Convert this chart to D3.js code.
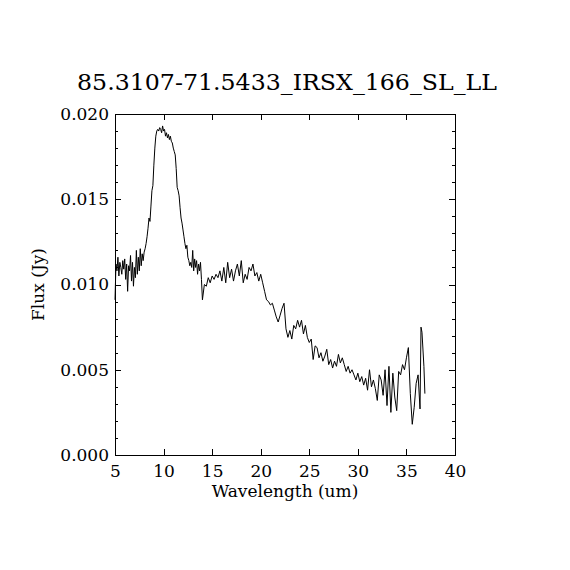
<!DOCTYPE html>
<html>
  <head>
    <meta charset="UTF-8">
    <style>
      body {
        margin: 0;
        background: white;
      }

      svg text {
        font-family: "DejaVu Serif", serif;
        fill: black;
      }

      .axis .domain {
        display: none;
      }

      .axis line {
        stroke: black;
        shape-rendering: crispEdges;
      }

      .axis text {
        font-size: 17px;
      }
    </style>
    <script src="https://d3js.org/d3.v7.min.js"></script>
  </head>

  <body>
    <svg id="spectrum"></svg>

    <script type="text/javascript">
      const title = '85.3107-71.5433_IRSX_166_SL_LL'
      const xLabel = 'Wavelength (um)'
      const yLabel = 'Flux (Jy)'

      const xTicks = [5, 10, 15, 20, 25, 30, 35, 40]
      const yTicks = [0.000, 0.005, 0.010, 0.015, 0.020]
      const yMinorTicks = [0.001, 0.002, 0.003, 0.004, 0.006, 0.007, 0.008, 0.009,
        0.011, 0.012, 0.013, 0.014, 0.016, 0.017, 0.018, 0.019]

      // spectrum
      const wavelength = [
        5.0, 5.1, 5.2, 5.3, 5.4, 5.5, 5.6, 5.7, 5.8, 5.9,
        6.0, 6.1, 6.2, 6.3, 6.4, 6.5, 6.6, 6.7, 6.8, 6.9,
        7.0, 7.1, 7.2, 7.3, 7.4, 7.5, 7.6, 7.7, 7.8, 7.9,
        8.0, 8.1, 8.2, 8.3, 8.4, 8.5, 8.6, 8.7, 8.8, 8.9,
        9.0, 9.1, 9.2, 9.3, 9.4, 9.5, 9.6, 9.7, 9.8, 9.9,
        10.0, 10.1, 10.2, 10.3, 10.4, 10.5, 10.6, 10.7, 10.8, 10.9,
        11.0, 11.1, 11.2, 11.3, 11.4, 11.5, 11.6, 11.7, 11.8, 11.9,
        12.0, 12.1, 12.2, 12.3, 12.4, 12.5, 12.6, 12.7, 12.8, 12.9,
        13.0, 13.1, 13.2, 13.3, 13.4, 13.5, 13.6, 13.7, 13.8, 13.9,
        14.0, 14.2, 14.4, 14.6, 14.8, 15.0, 15.2, 15.4, 15.6, 15.8,
        16.0, 16.2, 16.4, 16.6, 16.8, 17.0, 17.2, 17.4, 17.6, 17.8,
        18.0, 18.2, 18.4, 18.6, 18.8, 19.0, 19.2, 19.4, 19.6, 19.8,
        20.0, 20.2, 20.4, 20.6, 20.8, 21.0, 21.2, 21.4, 21.6, 21.8,
        22.0, 22.2, 22.4, 22.6, 22.8, 23.0, 23.2, 23.4, 23.6, 23.8,
        24.0, 24.2, 24.4, 24.6, 24.8, 25.0, 25.2, 25.4, 25.6, 25.8,
        26.0, 26.2, 26.4, 26.6, 26.8, 27.0, 27.2, 27.4, 27.6, 27.8,
        28.0, 28.2, 28.4, 28.6, 28.8, 29.0, 29.2, 29.4, 29.6, 29.8,
        30.0, 30.2, 30.4, 30.6, 30.8, 31.0, 31.2, 31.4, 31.6, 31.8,
        32.0, 32.2, 32.4, 32.6, 32.8, 33.0, 33.2, 33.4, 33.6, 33.8,
        34.0, 34.2, 34.4, 34.6, 34.8, 35.0, 35.2, 35.4, 35.6, 35.8,
        36.0, 36.2, 36.4, 36.5, 36.6, 36.8, 36.9
      ]

      const flux = [
        0.0091, 0.0112, 0.0108, 0.0116, 0.0105, 0.0113, 0.0110, 0.0106, 0.0114, 0.0109,
        0.0115, 0.0103, 0.0112, 0.0096, 0.0111, 0.0108, 0.0117, 0.0102, 0.0113, 0.0099,
        0.0110, 0.0104, 0.0120, 0.0106, 0.0116, 0.0108, 0.0121, 0.0111, 0.0118, 0.0114,
        0.0119, 0.0121, 0.0124, 0.0128, 0.0133, 0.0139, 0.0137, 0.0146, 0.0155, 0.0158,
        0.0170, 0.0180, 0.0187, 0.0190, 0.0191, 0.0190, 0.0192, 0.0191, 0.0189, 0.0193,
        0.0190, 0.0191, 0.0187, 0.0189, 0.0186, 0.0188, 0.0185, 0.0187, 0.0184, 0.0183,
        0.0180, 0.0178, 0.0176, 0.0168, 0.0157, 0.0155, 0.0152, 0.0145, 0.0139, 0.0136,
        0.0132, 0.0128, 0.0124, 0.0121, 0.0123, 0.0116, 0.0114, 0.0111, 0.0113, 0.0110,
        0.0120, 0.0108, 0.0115, 0.0110, 0.0114, 0.0106, 0.0112, 0.0108, 0.0113, 0.0103,
        0.0091, 0.0100, 0.0099, 0.0104, 0.0101, 0.0105, 0.0103, 0.0106, 0.0104, 0.0108,
        0.0102, 0.0110, 0.0101, 0.0113, 0.0104, 0.0109, 0.0102, 0.0108, 0.0112, 0.0105,
        0.0114, 0.0101, 0.0106, 0.0103, 0.0110, 0.0108, 0.0112, 0.0105, 0.0107, 0.0102,
        0.0106, 0.0101, 0.0096, 0.0091, 0.0090, 0.0088, 0.0089, 0.0085, 0.0081, 0.0078,
        0.0082, 0.0086, 0.0089, 0.0074, 0.0069, 0.0073, 0.0068, 0.0076, 0.0074, 0.0079,
        0.0075, 0.0079, 0.0071, 0.0076, 0.0069, 0.0066, 0.0068, 0.0056, 0.0064, 0.0063,
        0.0057, 0.0060, 0.0055, 0.0058, 0.0062, 0.0053, 0.0056, 0.0051, 0.0055, 0.0052,
        0.0059, 0.0054, 0.0057, 0.0053, 0.0049, 0.0052, 0.0048, 0.0050, 0.0047, 0.0044,
        0.0048, 0.0043, 0.0046, 0.0041, 0.0045, 0.0038, 0.0050, 0.0040, 0.0044, 0.0039,
        0.0032, 0.0047, 0.0044, 0.0035, 0.0050, 0.0029, 0.0052, 0.0025, 0.0048, 0.0034,
        0.0026, 0.0049, 0.0047, 0.0053, 0.0050, 0.0057, 0.0063, 0.0036, 0.0018, 0.0028,
        0.0042, 0.0047, 0.0027, 0.0075, 0.0072, 0.0052, 0.0036
      ]

      function getChartConfig() {
        let width = 570
        let height = 570
        let margin = {
          top: 114,
          bottom: 115,
          left: 115,
          right: 115
        }

        let bodyWidth = width - margin.left - margin.right
        let bodyHeight = height - margin.top - margin.bottom

        let container = d3.select('#spectrum')
          .attr('width', width)
          .attr('height', height)

        return { width, height, margin, bodyWidth, bodyHeight, container }
      }

      function getChartScales(config) {
        let xScale = d3.scaleLinear()
          .domain([5, 40])
          .range([0, config.bodyWidth])

        let yScale = d3.scaleLinear()
          .domain([0, 0.020])
          .range([config.bodyHeight, 0])

        return { xScale, yScale }
      }

      function drawAxes(scales, config) {
        let g = config.container
          .append('g')
          .attr('transform', `translate(${config.margin.left}, ${config.margin.top})`)

        g.append('g')
          .attr('class', 'axis')
          .attr('transform', `translate(0, ${config.bodyHeight})`)
          .call(d3.axisBottom(scales.xScale)
            .tickValues(xTicks)
            .tickFormat(d3.format('d'))
            .tickSize(-6)
            .tickPadding(10))

        g.append('g')
          .attr('class', 'axis')
          .call(d3.axisTop(scales.xScale)
            .tickValues(xTicks)
            .tickFormat('')
            .tickSize(-6))

        g.append('g')
          .attr('class', 'axis')
          .call(d3.axisLeft(scales.yScale)
            .tickValues(yTicks)
            .tickFormat(d3.format('.3f'))
            .tickSize(-6)
            .tickPadding(6))

        g.append('g')
          .attr('class', 'axis')
          .call(d3.axisLeft(scales.yScale)
            .tickValues(yMinorTicks)
            .tickFormat('')
            .tickSize(-3))

        g.append('g')
          .attr('class', 'axis')
          .attr('transform', `translate(${config.bodyWidth}, 0)`)
          .call(d3.axisRight(scales.yScale)
            .tickValues(yTicks)
            .tickFormat('')
            .tickSize(-6))

        g.append('g')
          .attr('class', 'axis')
          .attr('transform', `translate(${config.bodyWidth}, 0)`)
          .call(d3.axisRight(scales.yScale)
            .tickValues(yMinorTicks)
            .tickFormat('')
            .tickSize(-3))

        g.append('rect')
          .attr('x', 0)
          .attr('y', 0)
          .attr('width', config.bodyWidth)
          .attr('height', config.bodyHeight)
          .attr('fill', 'none')
          .attr('stroke', 'black')
          .attr('shape-rendering', 'crispEdges')

        return g
      }

      function drawSpectrum(g, scales) {
        let points = wavelength.map((w, i) => ({ w, f: flux[i] }))

        let line = d3.line()
          .x(d => scales.xScale(d.w))
          .y(d => scales.yScale(d.f))

        g.append('path')
          .datum(points)
          .attr('d', line)
          .attr('fill', 'none')
          .attr('stroke', 'black')
          .attr('stroke-width', 1)
      }

      function drawLabels(config) {
        let cx = config.margin.left + config.bodyWidth / 2

        config.container
          .append('text')
          .attr('x', cx + 2)
          .attr('y', 90)
          .attr('text-anchor', 'middle')
          .attr('font-size', 23)
          .attr('textLength', 420)
          .attr('lengthAdjust', 'spacingAndGlyphs')
          .text(title)

        config.container
          .append('text')
          .attr('x', cx)
          .attr('y', 497)
          .attr('text-anchor', 'middle')
          .attr('font-size', 17)
          .text(xLabel)

        config.container
          .append('text')
          .attr('transform', `translate(44, ${config.margin.top + config.bodyHeight / 2}) rotate(-90)`)
          .attr('text-anchor', 'middle')
          .attr('font-size', 17)
          .text(yLabel)
      }

      function showData() {
        let config = getChartConfig()
        let scales = getChartScales(config)
        let g = drawAxes(scales, config)
        drawSpectrum(g, scales)
        drawLabels(config)
      }

      showData()
    </script>
  </body>
</html>
